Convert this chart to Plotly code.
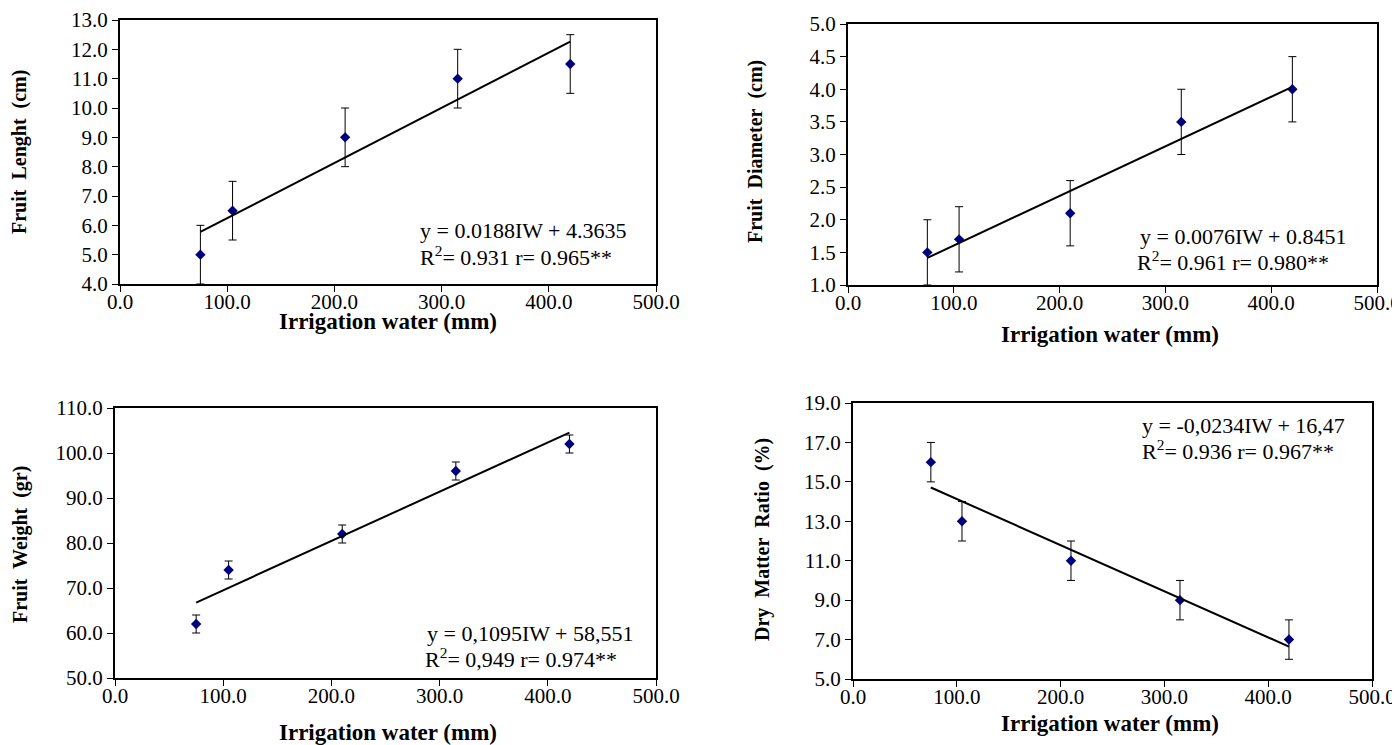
import plotly.graph_objects as go

# ---- data ----
irrigation = [75, 105, 210, 315, 420]

fruit_length = [5.0, 6.5, 9.0, 11.0, 11.5]
fruit_length_err = [1.0, 1.0, 1.0, 1.0, 1.0]

fruit_diameter = [1.5, 1.7, 2.1, 3.5, 4.0]
fruit_diameter_err = [0.5, 0.5, 0.5, 0.5, 0.5]

fruit_weight = [62.0, 74.0, 82.0, 96.0, 102.0]
fruit_weight_err = [2.0, 2.0, 2.0, 2.0, 2.0]

dry_matter = [16.0, 13.0, 11.0, 9.0, 7.0]
dry_matter_err = [1.0, 1.0, 1.0, 1.0, 1.0]

# regression coefficients shown on the chart (slope, intercept)
slopes = [0.0188, 0.0076, 0.1095, -0.0234]
intercepts = [4.3635, 0.8451, 58.551, 16.47]

eq_line1 = ["y = 0.0188IW + 4.3635", "y = 0.0076IW + 0.8451",
            "y = 0,1095IW + 58,551", "y = -0,0234IW + 16,47"]
eq_line2 = ["R<sup>2</sup>= 0.931 r= 0.965**", "R<sup>2</sup>= 0.961 r= 0.980**",
            "R<sup>2</sup>= 0,949 r= 0.974**", "R<sup>2</sup>= 0.936 r= 0.967**"]

y_titles = ["Fruit&nbsp; Lenght&nbsp; (cm)", "Fruit&nbsp; Diameter&nbsp; (cm)",
            "Fruit&nbsp; Weight&nbsp; (gr)", "Dry&nbsp; Matter&nbsp; Ratio&nbsp; (%)"]
x_title = "Irrigation water (mm)"

y_ranges = [(4, 13), (1, 5), (50, 110), (5, 19)]
y_dticks = [1, 0.5, 10, 2]

series = [fruit_length, fruit_diameter, fruit_weight, dry_matter]
errors = [fruit_length_err, fruit_diameter_err, fruit_weight_err, dry_matter_err]

W, H = 1400, 745
OFF = 8  # page body margin offset

# plot boxes in screen pixels: (left, right, top, bottom)
boxes = [(120, 656, 20, 284), (848, 1377, 24, 285),
         (115, 656, 408, 678), (853, 1372, 403, 679)]
# equation text positions (left x line1, y line1, left x line2, y line2)
eq_pos = [(418, 231, 418, 256), (1138, 236, 1135, 261),
          (425, 633, 423, 658), (1140, 425, 1140, 450)]
# axis title positions
xt_pos = [(388, 321), (1110, 334), (388, 732), (1110, 723)]
yt_pos = [(20, 152), (756, 152), (20, 545), (762, 540)]

FONT = "Liberation Serif, Times New Roman, serif"


def px(x):
    return (x - OFF) / W


def py(y):
    return 1 - (y - OFF) / H


fig = go.Figure()
annotations = []
layout = {}

for i in range(4):
    ax = "" if i == 0 else str(i + 1)
    xa, ya = "x" + ax, "y" + ax
    l, r, t, b = boxes[i]
    common = dict(showline=True, linecolor="black", linewidth=2, mirror=True,
                  ticks="outside", ticklen=6, tickcolor="black", tickwidth=1,
                  showgrid=False, zeroline=False, automargin=False,
                  tickformat=".1f",
                  tickfont=dict(family=FONT, size=21, color="black"))
    layout["xaxis" + ax] = dict(domain=[px(l), px(r)], anchor=ya,
                                range=[0, 500], dtick=100, tick0=0,
                                ticklabelstandoff=-8, **common)
    layout["yaxis" + ax] = dict(domain=[py(b), py(t)], anchor=xa,
                                range=list(y_ranges[i]), dtick=y_dticks[i],
                                tick0=y_ranges[i][0], **common)

    fig.add_trace(go.Scatter(
        x=irrigation, y=series[i], xaxis=xa, yaxis=ya, mode="markers",
        marker=dict(symbol="diamond", size=8, color="#00007f"),
        error_y=dict(type="data", array=errors[i], visible=True,
                     color="black", thickness=1, width=4),
        showlegend=False))

    xs = [irrigation[0], irrigation[-1]]
    ys = [slopes[i] * x + intercepts[i] for x in xs]
    fig.add_trace(go.Scatter(
        x=xs, y=ys, xaxis=xa, yaxis=ya, mode="lines",
        line=dict(color="black", width=2), showlegend=False))

    x1, y1, x2, y2 = eq_pos[i]
    annotations.append(dict(x=px(x1), y=py(y1), xref="paper", yref="paper",
                            text=eq_line1[i], showarrow=False, xanchor="left",
                            yanchor="middle",
                            font=dict(family=FONT, size=22, color="black")))
    annotations.append(dict(x=px(x2), y=py(y2), xref="paper",
                            yref="paper", text=eq_line2[i], showarrow=False,
                            xanchor="left", yanchor="middle",
                            font=dict(family=FONT, size=22, color="black")))
    xx, xy = xt_pos[i]
    annotations.append(dict(x=px(xx), y=py(xy), xref="paper", yref="paper",
                            text="<b>" + x_title + "</b>", showarrow=False,
                            xanchor="center", yanchor="middle",
                            font=dict(family=FONT, size=23, color="black")))
    yx, yy = yt_pos[i]
    annotations.append(dict(x=px(yx), y=py(yy), xref="paper", yref="paper",
                            text="<b>" + y_titles[i] + "</b>", showarrow=False,
                            textangle=-90, xanchor="center", yanchor="middle",
                            font=dict(family=FONT, size=20, color="black")))

fig.update_layout(**layout)
fig.update_layout(
    template="none",
    width=W, height=H, margin=dict(l=0, r=0, t=0, b=0, pad=0),
    paper_bgcolor="white", plot_bgcolor="white",
    annotations=annotations, showlegend=False)

fig.write_html("out.html")
